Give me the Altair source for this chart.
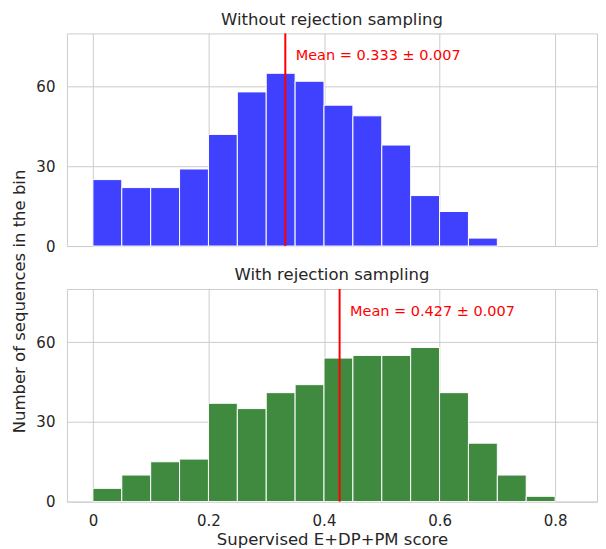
import altair as alt
import pandas as pd

# ---- data ----
top_bin_starts = [0.00, 0.05, 0.10, 0.15, 0.20, 0.25, 0.30, 0.35, 0.40, 0.45, 0.50, 0.55, 0.60, 0.65]
top_counts = [25, 22, 22, 29, 42, 58, 65, 62, 53, 49, 38, 19, 13, 3]

bottom_bin_starts = [0.00, 0.05, 0.10, 0.15, 0.20, 0.25, 0.30, 0.35, 0.40, 0.45, 0.50, 0.55, 0.60, 0.65, 0.70, 0.75]
bottom_counts = [5, 10, 15, 16, 37, 35, 41, 44, 54, 55, 55, 58, 41, 22, 10, 2]

bin_width = 0.05
means = [0.333, 0.427]
mean_errors = [0.007, 0.007]
panel_titles = ["Without rejection sampling", "With rejection sampling"]
bar_colors = ["#4040ff", "#3f8a3f"]
x_ticks = [0, 0.2, 0.4, 0.6, 0.8]
y_ticks = [0, 30, 60]
label_y = 71.5

FONT = "DejaVu Sans"
TEXT = "#262626"
GRID = "#cccccc"

x_scale = alt.Scale(domain=[-0.045, 0.8725], nice=False, zero=False)
y_scale = alt.Scale(domain=[0, 80], nice=False)


def panel(idx, starts, counts, show_x):
    df = pd.DataFrame({"start": starts, "count": counts})
    df["end"] = df["start"] + bin_width
    df["base"] = 0
    mdf = pd.DataFrame({
        "mean": [means[idx]],
        "lx": [means[idx] + 0.018],
        "ly": [label_y],
        "label": [f"Mean = {means[idx]:.3f} \u00b1 {mean_errors[idx]:.3f}"],
    })
    if show_x:
        x_axis = alt.Axis(values=x_ticks, title="Supervised E+DP+PM score",
                          labelExpr="datum.value == 0 ? '0' : format(datum.value, '.1f')")
    else:
        x_axis = alt.Axis(values=x_ticks, labels=False, title=None)
    if idx == 0:
        y_axis = alt.Axis(values=y_ticks, title="Number of sequences in the bin",
                          titleY=268, titleX=-39, titleAngle=-90,
                          titleAlign="center", titleBaseline="bottom")
    else:
        y_axis = alt.Axis(values=y_ticks, title=None)

    bars = alt.Chart(df).mark_bar(fill=bar_colors[idx], stroke="white", strokeWidth=1,
                                  opacity=1).encode(
        x=alt.X("start:Q", scale=x_scale, axis=x_axis),
        x2="end:Q",
        y=alt.Y("count:Q", scale=y_scale, axis=y_axis),
        y2="base:Q",
    )
    rule = alt.Chart(mdf).mark_rule(color="red", strokeWidth=2).encode(x="mean:Q")
    text = alt.Chart(mdf).mark_text(align="left", baseline="middle", color="red",
                                    font=FONT, fontSize=14.5).encode(
        x="lx:Q", y="ly:Q", text="label:N")
    return alt.layer(bars, rule, text).properties(
        width=531, height=213,
        title=alt.TitleParams(panel_titles[idx], font=FONT, fontSize=16.5,
                              fontWeight="normal", color=TEXT, offset=4,
                              anchor="middle"),
    )


top = panel(0, top_bin_starts, top_counts, False)
bottom = panel(1, bottom_bin_starts, bottom_counts, True)

chart = alt.vconcat(top, bottom, spacing=43, bounds="flush").properties(
    padding={"left": 3, "top": 3, "right": 0, "bottom": 0}
).configure_view(
    stroke=GRID, strokeWidth=1
).configure_axis(
    grid=True, gridColor=GRID, gridWidth=1, domain=False, ticks=False,
    labelFont=FONT, labelFontSize=15, labelColor=TEXT, labelPadding=12,
    titleFont=FONT, titleFontSize=16.5, titleColor=TEXT, titleFontWeight="normal",
    titlePadding=3,
)

chart.save("out.html", embed_options={"renderer": "svg", "actions": False})
